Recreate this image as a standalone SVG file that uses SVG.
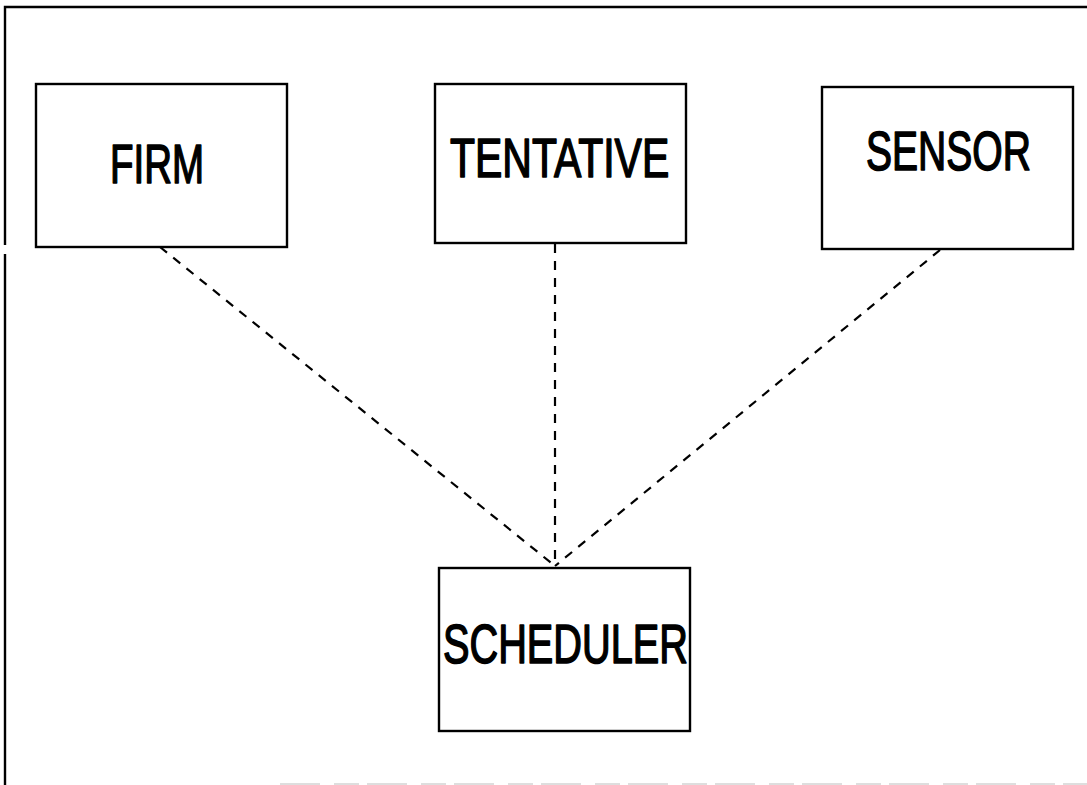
<svg xmlns="http://www.w3.org/2000/svg" width="1087" height="785" viewBox="0 0 1087 785">
  <style>
    .box { fill: #ffffff; stroke: #000000; stroke-width: 2.4; }
    .label { font-family: "Liberation Sans", Arial, sans-serif; font-size: 55px; fill: #000000; stroke: #000000; stroke-width: 1.6; stroke-linejoin: round; }
    .link { stroke: #000000; stroke-width: 2.2; stroke-dasharray: 9 8; fill: none; }
    .frame { stroke: #000000; stroke-width: 2.4; fill: none; }
  </style>
  <rect width="1087" height="785" fill="#ffffff"/>

  <!-- outer frame -->
  <g id="frame">
    <polyline class="frame" points="5,245 5,7 1087,7"/>
    <line class="frame" x1="5" y1="254" x2="5" y2="785"/>
    <line x1="280" y1="784" x2="1087" y2="784" stroke="#bdbdbd" stroke-width="1.2" stroke-dasharray="40 14 25 8"/>
  </g>

  <!-- connectors -->
  <g id="connectors">
    <line class="link" x1="160" y1="247" x2="555" y2="566"/>
    <line class="link" x1="555" y1="244" x2="555" y2="566"/>
    <line class="link" x1="940" y1="250" x2="555" y2="566"/>
  </g>

  <!-- labels use a horizontally condensed sans -->
  <g id="firm">
    <rect class="box" x="36" y="84" width="251" height="163"/>
    <text class="label" transform="translate(110,183) scale(0.70,1)">FIRM</text>
  </g>

  <g id="tentative">
    <rect class="box" x="435" y="84" width="251" height="159"/>
    <text class="label" transform="translate(450,177) scale(0.745,1)">TENTATIVE</text>
  </g>

  <g id="sensor">
    <rect class="box" x="822" y="87" width="251" height="162"/>
    <text class="label" transform="translate(866,170) scale(0.71,1)">SENSOR</text>
  </g>

  <g id="scheduler">
    <rect class="box" x="439" y="568" width="251" height="163"/>
    <text class="label" transform="translate(443,663) scale(0.722,1)">SCHEDULER</text>
  </g>
</svg>
